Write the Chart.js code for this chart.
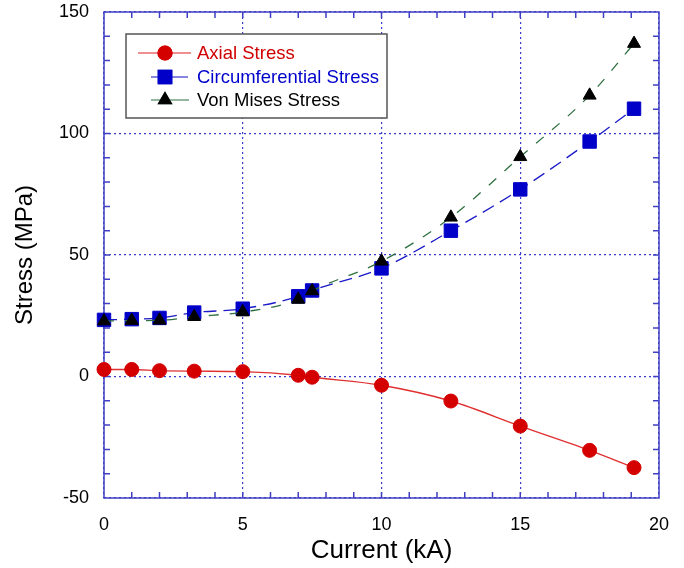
<!DOCTYPE html>
<html>
<head>
<meta charset="utf-8">
<script src="https://cdn.jsdelivr.net/npm/chart.js@4/dist/chart.umd.min.js"></script>
<style>
  html, body { margin: 0; padding: 0; background: #fff; }
  #wrap { width: 684px; height: 568px; }
</style>
</head>
<body>
<div id="wrap"><canvas id="stressChart" width="684" height="568"></canvas></div>
<script>
// values
const current = [0, 1, 2, 3.25, 5, 7, 7.5, 10, 12.5, 15, 17.5, 19.1];
const axialStress = [2.9, 2.9, 2.4, 2.2, 2.0, 0.5, -0.3, -3.6, -10.1, -20.4, -30.4, -37.5];
const circumferentialStress = [23.3, 23.6, 24.1, 26.3, 27.9, 33.0, 35.4, 44.5, 60.0, 77.0, 96.7, 110.2];
const vonMisesStress = [22.8, 23.0, 23.1, 24.6, 26.5, 31.7, 35.2, 47.4, 65.5, 90.4, 115.7, 137.0];

const xTicks = [0, 5, 10, 15, 20];
const yTicks = [-50, 0, 50, 100, 150];

const axisBlue = '#4040c4';
const gridBlue = '#3a3acc';

const toPoints = (ys) => ys.map((y, i) => ({ x: current[i], y }));

// frame + inward ticks on all four sides
const frameTicks = {
    id: 'frameTicks',
    beforeDatasetsDraw(chart) {
        const { ctx, chartArea: a, scales: { x, y } } = chart;
        ctx.save();
        ctx.strokeStyle = axisBlue;
        ctx.lineWidth = 1.5;
        ctx.beginPath();
        for (let v = 1; v < 20; v++) {
            const px = x.getPixelForValue(v);
            ctx.moveTo(px, a.bottom); ctx.lineTo(px, a.bottom - 6);
            ctx.moveTo(px, a.top); ctx.lineTo(px, a.top + 6);
        }
        for (let v = -40; v < 150; v += 10) {
            const py = y.getPixelForValue(v);
            ctx.moveTo(a.left, py); ctx.lineTo(a.left + 6, py);
            ctx.moveTo(a.right, py); ctx.lineTo(a.right - 6, py);
        }
        ctx.stroke();
        ctx.strokeRect(a.left, a.top, a.right - a.left, a.bottom - a.top);
        ctx.restore();
    }
};

// boxed legend in the upper left of the plot
const boxLegend = {
    id: 'boxLegend',
    afterDraw(chart) {
        const { ctx } = chart;
        const items = [
            { label: 'Axial Stress', line: '#e02020', text: '#d00000', x0: 138, x1: 191, shape: 'circle' },
            { label: 'Circumferential Stress', line: '#1010c0', text: '#0000cc', x0: 151, x1: 188, shape: 'rect' },
            { label: 'Von Mises Stress', line: '#2e7040', text: '#000000', x0: 151, x1: 189, shape: 'triangle' }
        ];
        const rows = [53, 77, 100];
        ctx.save();
        ctx.fillStyle = '#ffffff';
        ctx.fillRect(126, 34, 261, 84);
        ctx.strokeStyle = '#555555';
        ctx.lineWidth = 1.5;
        ctx.strokeRect(126, 34, 261, 84);
        items.forEach((it, i) => {
            const yy = rows[i];
            ctx.strokeStyle = it.line;
            ctx.lineWidth = 1.2;
            ctx.beginPath();
            ctx.moveTo(it.x0, yy); ctx.lineTo(it.x1, yy);
            ctx.stroke();
            const ds = chart.data.datasets[i];
            Chart.helpers.drawPoint(ctx, {
                pointStyle: it.shape,
                radius: ds.pointRadius,
                borderWidth: 1
            }, 165, yy);
            ctx.fillStyle = ds.pointBackgroundColor;
            ctx.strokeStyle = ds.pointBorderColor;
            ctx.fill();
            ctx.stroke();
            ctx.fillStyle = it.text;
            ctx.font = '18.5px "Liberation Sans", Arial, sans-serif';
            ctx.textBaseline = 'middle';
            ctx.fillText(it.label, 197, yy + 1);
        });
        ctx.restore();
    }
};

const gridColor = (c) => (c.tick && c.tick.value % 5 === 0 ? gridBlue : 'rgba(0,0,0,0)');
const yGridColor = (c) => (c.tick && c.tick.value % 50 === 0 ? gridBlue : 'rgba(0,0,0,0)');

new Chart(document.getElementById('stressChart'), {
    type: 'scatter',
    data: {
        datasets: [
            {
                label: 'Axial Stress',
                data: toPoints(axialStress),
                showLine: true,
                borderColor: '#e03030',
                borderWidth: 1.4,
                cubicInterpolationMode: 'monotone',
                pointStyle: 'circle',
                pointRadius: 7,
                pointBackgroundColor: '#d40000',
                pointBorderColor: '#d40000',
                pointBorderWidth: 1,
                clip: false,
                order: 2
            },
            {
                label: 'Circumferential Stress',
                data: toPoints(circumferentialStress),
                showLine: true,
                borderColor: '#1a1ac8',
                borderWidth: 1.3,
                borderDash: [13, 7],
                cubicInterpolationMode: 'monotone',
                pointStyle: 'rect',
                pointRadius: 9.5,
                pointBackgroundColor: '#0000c8',
                pointBorderColor: '#0000c8',
                pointBorderWidth: 1,
                clip: false,
                order: 1
            },
            {
                label: 'Von Mises Stress',
                data: toPoints(vonMisesStress),
                showLine: true,
                borderColor: '#2e7040',
                borderWidth: 1.3,
                borderDash: [10, 11],
                cubicInterpolationMode: 'monotone',
                pointStyle: 'triangle',
                pointRadius: 7.5,
                pointBackgroundColor: '#000000',
                pointBorderColor: '#000000',
                pointBorderWidth: 1,
                clip: false,
                order: 0
            }
        ]
    },
    options: {
        responsive: false,
        animation: false,
        events: [],
        layout: { padding: { left: 0, top: 12, right: 25, bottom: 0 } },
        plugins: {
            legend: { display: false },
            tooltip: { enabled: false }
        },
        scales: {
            x: {
                type: 'linear',
                min: 0,
                max: 20,
                afterFit: (s) => { s.height = 70; s.paddingLeft = 0; s.paddingRight = 0; },
                ticks: {
                    stepSize: 1,
                    autoSkip: false,
                    maxRotation: 0,
                    padding: 16,
                    color: '#000',
                    font: { family: '"Liberation Sans", Arial, sans-serif', size: 18 },
                    callback: (v) => (xTicks.includes(v) ? String(v) : '')
                },
                grid: { color: gridColor, lineWidth: 1.2, drawTicks: false },
                border: { display: false, dash: [2, 3] },
                title: {
                    display: true,
                    text: 'Current (kA)',
                    color: '#000',
                    font: { family: '"Liberation Sans", Arial, sans-serif', size: 26 },
                    padding: { top: 0, bottom: 2 }
                }
            },
            y: {
                type: 'linear',
                min: -50,
                max: 150,
                afterFit: (s) => { s.width = 104; s.paddingTop = 0; s.paddingBottom = 0; },
                ticks: {
                    stepSize: 10,
                    autoSkip: false,
                    padding: 15,
                    color: '#000',
                    font: { family: '"Liberation Sans", Arial, sans-serif', size: 18 },
                    callback: (v) => (yTicks.includes(v) ? String(v) : '')
                },
                grid: { color: yGridColor, lineWidth: 1.2, drawTicks: false },
                border: { display: false, dash: [2, 3] },
                title: {
                    display: true,
                    text: 'Stress (MPa)',
                    color: '#000',
                    font: { family: '"Liberation Sans", Arial, sans-serif', size: 24 },
                    padding: { top: 11, bottom: 0 }
                }
            }
        }
    },
    plugins: [frameTicks, boxLegend]
});
</script>
</body>
</html>
